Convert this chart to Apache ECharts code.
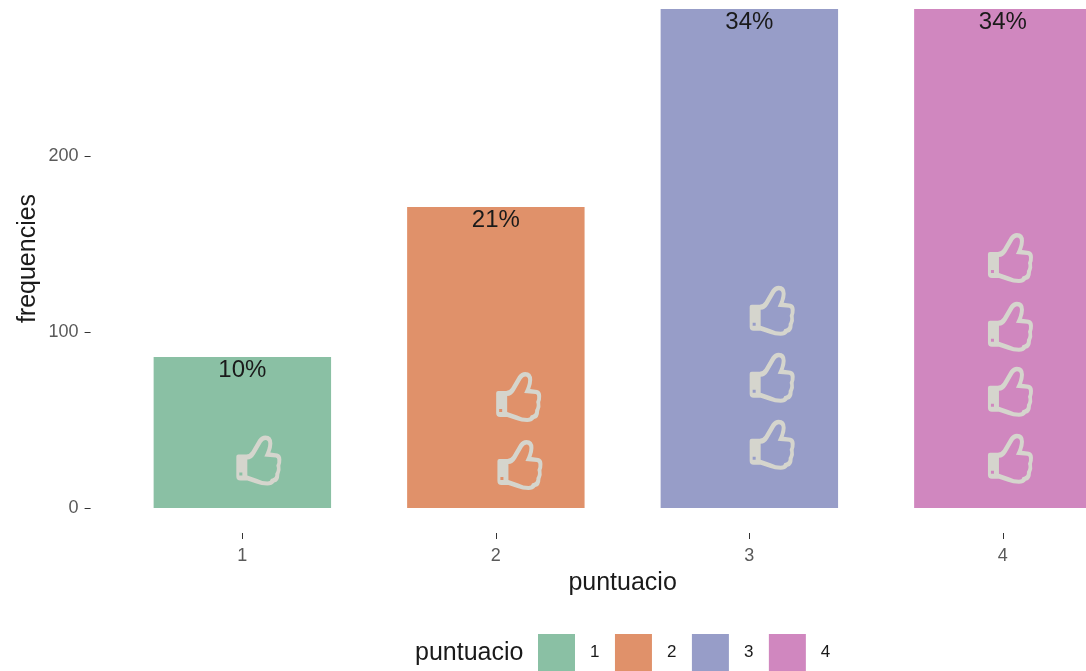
<!DOCTYPE html>
<html>
<head>
<meta charset="utf-8">
<style>
	html, body { margin: 0; padding: 0; background: #fff; }
	#chart { width: 1086px; height: 671px; }
</style>
<script src="https://cdn.jsdelivr.net/npm/echarts@6/dist/echarts.min.js"></script>
</head>
<body>
<div id="chart"></div>
<script>
var categories = ['1', '2', '3', '4'];
var frequencies = [85.8, 171, 283.5, 283.5];
var percentLabels = ['10%', '21%', '34%', '34%'];
var barColors = ['#8AC0A4', '#E0916A', '#979DC8', '#D087BF'];
var yTicks = [0, 100, 200];

// thumb icons, in axis units: x is the puntuacio scale, y the frequencies scale
var thumbX = [1.065, 2.09, 2.095, 3.09, 3.09, 3.09, 4.03, 4.03, 4.03, 4.03];
var thumbY = [27, 63, 24.5, 112, 74, 36, 142, 103, 66, 28];

var thumbPath = 'path://M2 19 L10 19 Q13 19 15 16 L22 4 Q25 0 29 0 Q36 0 36 8 Q36 12 34 17 L41 18 ' +
	'Q45 19 45 24 Q45 28 44 30 Q45 35 43 39 Q43 46 38 47 Q36 50 31 50 Q25 50 20 48 L11 45 L4 45 Q0 45 0 41 L0 21 Q0 19 2 19 Z ' +
	'M11 24 L11 40 L21 43.5 Q26 46 31 46 Q34 46 34.5 43.5 Q39.5 42.5 39 38 Q41.5 34 40 30 Q41.5 27 41 24 Q41 22.5 39.5 22 ' +
	'L28 21 Q32 13 32 8 Q32 4.5 29 4.5 Q27 4.5 25.5 7 L18.5 19 Q15.5 24 11 24 Z ' +
	'M3 37 L3 40 L6 40 L6 37 Z';

var fontFamily = '"Liberation Sans", Arial, sans-serif';
var chart = echarts.init(document.getElementById('chart'));

var series = categories.map(function (name, i) {
	var values = categories.map(function (c, j) { return j === i ? frequencies[j] : null; });
	return {
		type: 'bar',
		name: name,
		stack: 'total',
		barWidth: '70%',
		data: values,
		itemStyle: { color: barColors[i] },
		label: {
			show: true,
			position: 'insideTop',
			distance: 1,
			formatter: percentLabels[i],
			fontFamily: fontFamily,
			fontSize: 24,
			color: '#1a1a1a'
		}
	};
});

series.push({
	type: 'scatter',
	name: 'thumbs',
	xAxisIndex: 1,
	z: 5,
	silent: true,
	symbol: thumbPath,
	symbolSize: [45, 50],
	itemStyle: { color: '#D5D5CD', opacity: 1 },
	data: thumbX.map(function (x, i) { return [x, thumbY[i]]; })
});

chart.setOption({
	animation: false,
	backgroundColor: '#fff',
	grid: { left: 115.6, width: 1014, top: 9, height: 499, outerBoundsMode: 'none' },
	title: {
		text: 'puntuacio',
		left: 415,
		top: 641,
		padding: 0,
		textStyle: { fontFamily: fontFamily, fontSize: 25, fontWeight: 'normal', color: '#1a1a1a' }
	},
	legend: {
		data: categories,
		left: 538,
		top: 634,
		padding: 0,
		icon: 'rect',
		itemWidth: 37,
		itemHeight: 37,
		itemGap: 15.5,
		selectedMode: false,
		textStyle: { fontFamily: fontFamily, fontSize: 17, color: '#1a1a1a', padding: [0, 0, 0, 10] }
	},
	xAxis: [
		{
			type: 'category',
			data: categories,
			offset: 25,
			name: 'puntuacio',
			nameLocation: 'middle',
			nameGap: 38,
			nameTextStyle: { fontFamily: fontFamily, fontSize: 25, color: '#1a1a1a' },
			axisLine: { show: false, onZero: false },
			axisTick: { show: true, alignWithLabel: true, length: 6, lineStyle: { color: '#333' } },
			axisLabel: { fontFamily: fontFamily, fontSize: 18, color: '#5a5a5a', margin: 14 },
			splitLine: { show: false }
		},
		{ type: 'value', min: 0.5, max: 4.5, show: false }
	],
	yAxis: {
		type: 'value',
		min: 0,
		max: 283.5,
		interval: 100,
		offset: 25,
		name: 'frequencies',
		nameLocation: 'middle',
		nameGap: 50,
		nameMoveOverlap: false,
		nameTextStyle: { fontFamily: fontFamily, fontSize: 25, color: '#1a1a1a' },
		axisLine: { show: false },
		axisTick: { show: true, length: 6, lineStyle: { color: '#333' } },
		axisLabel: {
			fontFamily: fontFamily,
			fontSize: 18,
			color: '#5a5a5a',
			margin: 12,
			showMaxLabel: false,
			formatter: function (v) { return yTicks.indexOf(v) >= 0 ? String(v) : ''; }
		},
		splitLine: { show: false }
	},
	series: series
});
</script>
</body>
</html>
